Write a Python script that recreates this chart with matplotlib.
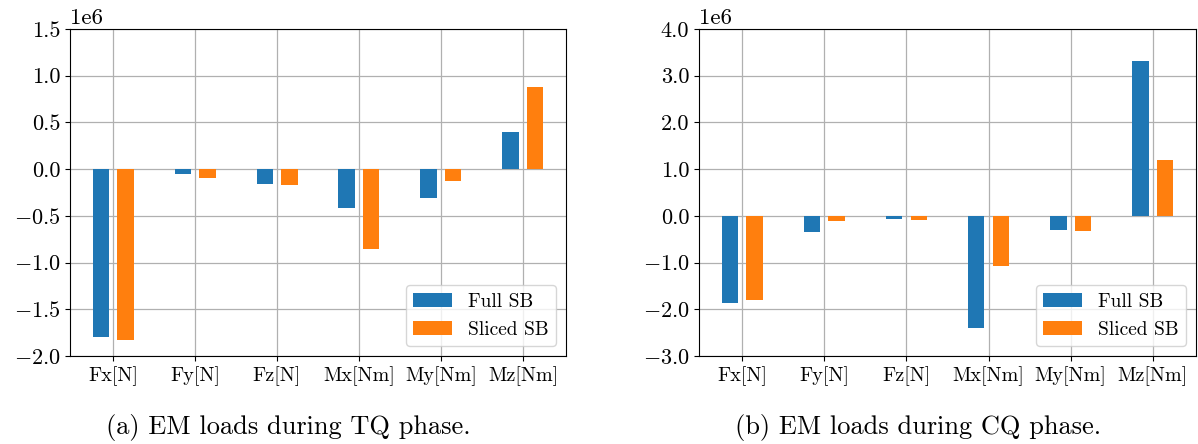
import matplotlib
matplotlib.use("Agg")
import matplotlib.pyplot as plt
from matplotlib.ticker import FuncFormatter, MultipleLocator
import numpy as np

plt.rcParams["font.family"] = ["cmr10", "DejaVu Serif"]
plt.rcParams["mathtext.fontset"] = "cm"
plt.rcParams["axes.unicode_minus"] = False

categories = ["Fx[N]", "Fy[N]", "Fz[N]", "Mx[Nm]", "My[Nm]", "Mz[Nm]"]
series_names = ["Full SB", "Sliced SB"]

# EM loads during the thermal quench (TQ) phase
tq_full = [-1.80e6, -0.055e6, -0.16e6, -0.42e6, -0.31e6, 0.40e6]
tq_sliced = [-1.83e6, -0.09e6, -0.17e6, -0.85e6, -0.125e6, 0.88e6]

# EM loads during the current quench (CQ) phase
cq_full = [-1.86e6, -0.35e6, -0.06e6, -2.40e6, -0.31e6, 3.31e6]
cq_sliced = [-1.80e6, -0.12e6, -0.08e6, -1.07e6, -0.33e6, 1.20e6]

captions = ["(a) EM loads during TQ phase.", "(b) EM loads during CQ phase."]

W, H = 1198, 444
fig = plt.figure(figsize=(W / 100, H / 100), dpi=100)
ax1 = fig.add_axes([70 / W, 1 - 356 / H, 496 / W, 327 / H])
ax2 = fig.add_axes([699 / W, 1 - 356 / H, 497 / W, 327 / H])

x = np.arange(len(categories))
width = 0.2
offset = 0.15


def fmt(v, pos):
    s = f"{v / 1e6:.1f}"
    if s.startswith("-"):
        s = r"$-$" + s[1:]
    return s


def draw(ax, full, sliced, ylim, step):
    ax.set_axisbelow(True)
    ax.grid(True, color="#b0b0b0", linewidth=0.9)
    ax.bar(x - offset, full, width, color="#1f77b4", label=series_names[0])
    ax.bar(x + offset, sliced, width, color="#ff7f0e", label=series_names[1])
    ax.set_xticks(x)
    ax.set_xticklabels(categories, fontsize=14.5)
    ax.set_ylim(*ylim)
    ax.yaxis.set_major_locator(MultipleLocator(step))
    ax.yaxis.set_major_formatter(FuncFormatter(fmt))
    ax.tick_params(axis="y", labelsize=16)
    ax.text(0.0, 1.003, "1e6", transform=ax.transAxes, fontsize=16.5,
            ha="left", va="bottom")
    ax.legend(loc="lower right", fontsize=14, fancybox=True)


draw(ax1, tq_full, tq_sliced, (-2.0e6, 1.5e6), 0.5e6)
draw(ax2, cq_full, cq_sliced, (-3.0e6, 4.0e6), 1.0e6)

fig.text(288 / W, 1 - 427 / H, captions[0], fontsize=19, ha="center", va="center")
fig.text(918 / W, 1 - 427 / H, captions[1], fontsize=19, ha="center", va="center")

fig.savefig("out.png", dpi=100)
